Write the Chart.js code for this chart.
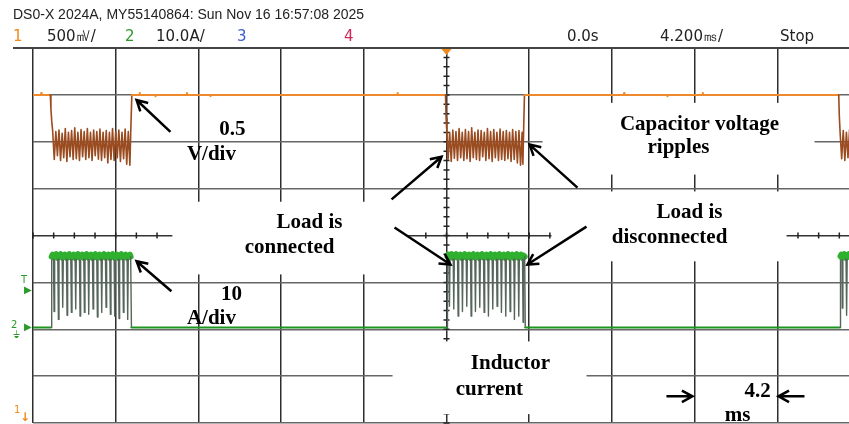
<!DOCTYPE html>
<html>
<head>
<meta charset="utf-8">
<script src="https://cdn.jsdelivr.net/npm/chart.js@4.4.1/dist/chart.umd.min.js"></script>
<style>
  html, body { margin: 0; padding: 0; background: #fff; overflow: hidden; }
  #wrap { width: 849px; height: 424px; overflow: hidden; position: relative; }
  canvas { display: block; }
</style>
</head>
<body>
<div id="wrap"><canvas id="scope" width="880" height="424"></canvas></div>
<script>
// time axis in ms (4.2 ms/div, trigger at 0), vertical axis in screen divisions
const xTicks = [-21, -16.8, -12.6, -8.4, -4.2, 0, 4.2, 8.4, 12.6, 16.8, 21];
const yTicks = [-4, -3, -2, -1, 0, 1, 2, 3, 4];

// channel 1 : capacitor voltage (0.5 V/div), [ms, div]
const ch1Base0 = [[-21, 3.0], [-20.6, 3.0], [-20.58, 3.04], [-20.56, 3.0], [-20.12, 3.0]];
const ch1Burst1 = [
  [-20.09, 2.7], [-20.05, 2.45], [-20.0, 2.22],
  [-19.92, 1.62], [-19.84, 2.22], [-19.76, 1.7], [-19.68, 2.25], [-19.6, 1.6], [-19.52, 2.18],
  [-19.44, 1.66], [-19.36, 2.28], [-19.28, 1.58], [-19.2, 2.2], [-19.12, 1.68], [-19.04, 2.24],
  [-18.96, 1.62], [-18.88, 2.3], [-18.8, 1.64], [-18.72, 2.2], [-18.64, 1.6], [-18.56, 2.26],
  [-18.48, 1.68], [-18.4, 2.22], [-18.32, 1.62], [-18.24, 2.28], [-18.16, 1.66], [-18.08, 2.2],
  [-18.0, 1.6], [-17.92, 2.25], [-17.84, 1.7], [-17.76, 2.22], [-17.68, 1.63], [-17.6, 2.27],
  [-17.52, 1.6], [-17.44, 2.2], [-17.36, 1.66], [-17.28, 2.24], [-17.2, 1.55], [-17.12, 2.2],
  [-17.04, 1.62], [-16.96, 2.28], [-16.88, 1.6], [-16.8, 2.22], [-16.72, 1.66], [-16.64, 2.25],
  [-16.56, 1.58], [-16.48, 2.2], [-16.4, 1.64], [-16.32, 2.27], [-16.24, 1.52], [-16.16, 2.22],
  [-16.08, 1.5], [-16.03, 2.3]
];
const ch1Base1 = [
  [-15.98, 3.0], [-15.6, 3.0], [-15.58, 3.04], [-15.56, 3.0], [-14.8, 3.0], [-14.78, 2.97],
  [-14.76, 3.0], [-13.2, 3.0], [-13.18, 3.04], [-13.16, 3.0], [-12.0, 3.0], [-11.98, 2.97],
  [-11.96, 3.0], [-2.5, 3.0], [-2.48, 3.04], [-2.46, 3.0], [-0.05, 3.0]
];
const ch1Burst2 = [
  [-0.02, 2.5], [0.02, 2.18],
  [0.08, 1.62], [0.16, 2.2], [0.24, 1.58], [0.32, 2.25], [0.4, 1.65], [0.48, 2.22], [0.56, 1.6],
  [0.64, 2.28], [0.72, 1.66], [0.8, 2.2], [0.88, 1.6], [0.96, 2.26], [1.04, 1.64], [1.12, 2.22],
  [1.2, 1.58], [1.28, 2.3], [1.36, 1.66], [1.44, 2.2], [1.52, 1.62], [1.6, 2.25], [1.68, 1.6],
  [1.76, 2.24], [1.84, 1.68], [1.92, 2.2], [2.0, 1.6], [2.08, 2.28], [2.16, 1.64], [2.24, 2.22],
  [2.32, 1.58], [2.4, 2.26], [2.48, 1.66], [2.56, 2.2], [2.64, 1.6], [2.72, 2.27], [2.8, 1.62],
  [2.88, 2.22], [2.96, 1.6], [3.04, 2.24], [3.12, 1.64], [3.2, 2.2], [3.28, 1.58], [3.36, 2.26],
  [3.44, 1.62], [3.52, 2.22], [3.6, 1.55], [3.68, 2.24], [3.76, 1.5], [3.84, 2.2], [3.88, 1.52],
  [3.92, 2.3]
];
const ch1Base2 = [
  [3.96, 3.0], [9.0, 3.0], [9.02, 3.04], [9.04, 3.0], [11.2, 3.0], [11.22, 2.97],
  [11.24, 3.0], [13.0, 3.0], [13.02, 3.04], [13.04, 3.0], [19.92, 3.0]
];
const ch1Burst3 = [
  [19.95, 2.55], [19.99, 2.2], [20.07, 1.64], [20.15, 2.24], [20.23, 1.6], [20.31, 2.2],
  [20.39, 1.66], [20.47, 2.26], [20.55, 1.62], [20.63, 2.22], [20.71, 1.6], [20.79, 2.2],
  [20.87, 1.64], [20.95, 2.24]
];

// channel 2 : inductor current (10 A/div), [ms, div]
const ch2Base0 = [[-21, -1.96], [-20.08, -1.96]];
const ch2Burst1 = [
  [-20.05, -0.45], [-20.0, -0.41],
  [-19.96, -0.47], [-19.93, -1.62], [-19.9, -0.44], [-19.82, -0.4],
  [-19.74, -0.48], [-19.71, -1.79], [-19.68, -0.43], [-19.6, -0.4],
  [-19.52, -0.47], [-19.49, -1.53], [-19.46, -0.45], [-19.38, -0.41],
  [-19.3, -0.48], [-19.27, -1.7], [-19.24, -0.43], [-19.16, -0.4],
  [-19.08, -0.47], [-19.05, -1.64], [-19.02, -0.44], [-18.94, -0.41],
  [-18.86, -0.48], [-18.83, -1.57], [-18.8, -0.43], [-18.72, -0.4],
  [-18.64, -0.47], [-18.61, -1.72], [-18.58, -0.45], [-18.5, -0.41],
  [-18.42, -0.48], [-18.39, -1.64], [-18.36, -0.43], [-18.28, -0.4],
  [-18.2, -0.47], [-18.17, -1.68], [-18.14, -0.44], [-18.06, -0.41],
  [-17.98, -0.48], [-17.95, -1.57], [-17.92, -0.43], [-17.84, -0.4],
  [-17.76, -0.47], [-17.73, -1.74], [-17.7, -0.45], [-17.62, -0.41],
  [-17.54, -0.48], [-17.51, -1.64], [-17.48, -0.43], [-17.4, -0.4],
  [-17.32, -0.47], [-17.29, -1.53], [-17.26, -0.44], [-17.18, -0.41],
  [-17.1, -0.48], [-17.07, -1.68], [-17.04, -0.43], [-16.96, -0.4],
  [-16.88, -0.47], [-16.85, -1.72], [-16.82, -0.45], [-16.74, -0.41],
  [-16.66, -0.48], [-16.63, -1.77], [-16.6, -0.43], [-16.52, -0.4],
  [-16.44, -0.47], [-16.41, -1.64], [-16.38, -0.44], [-16.3, -0.41],
  [-16.22, -0.48], [-16.19, -1.79], [-16.16, -0.43], [-16.08, -0.41], [-16.04, -0.45]
];
const ch2Base1 = [[-16.0, -1.96], [0.03, -1.96]];
const ch2Burst2 = [
  [0.05, -0.45], [0.09, -0.41],
  [0.12, -0.47], [0.15, -1.51], [0.18, -0.44], [0.26, -0.4],
  [0.34, -0.48], [0.37, -1.57], [0.4, -0.43], [0.48, -0.4],
  [0.56, -0.47], [0.59, -1.72], [0.62, -0.45], [0.7, -0.41],
  [0.78, -0.48], [0.81, -1.62], [0.84, -0.43], [0.92, -0.4],
  [1.0, -0.47], [1.03, -1.51], [1.06, -0.44], [1.14, -0.41],
  [1.22, -0.48], [1.25, -1.72], [1.28, -0.43], [1.36, -0.4],
  [1.44, -0.47], [1.47, -1.62], [1.5, -0.45], [1.58, -0.41],
  [1.66, -0.48], [1.69, -1.53], [1.72, -0.43], [1.8, -0.4],
  [1.88, -0.47], [1.91, -1.64], [1.94, -0.44], [2.02, -0.41],
  [2.1, -0.48], [2.13, -1.72], [2.16, -0.43], [2.24, -0.4],
  [2.32, -0.47], [2.35, -1.57], [2.38, -0.45], [2.46, -0.41],
  [2.54, -0.48], [2.57, -1.51], [2.6, -0.43], [2.68, -0.4],
  [2.76, -0.47], [2.79, -1.64], [2.82, -0.44], [2.9, -0.41],
  [2.98, -0.48], [3.01, -1.72], [3.04, -0.43], [3.12, -0.4],
  [3.2, -0.47], [3.23, -1.62], [3.26, -0.45], [3.34, -0.41],
  [3.42, -0.48], [3.45, -1.79], [3.48, -0.43], [3.56, -0.4],
  [3.64, -0.47], [3.67, -1.72], [3.7, -0.44], [3.78, -0.41],
  [3.86, -0.48], [3.89, -1.85], [3.92, -0.43], [3.97, -0.45]
];
const ch2Base2 = [[4.0, -1.96], [19.99, -1.96]];
const ch2Burst3 = [
  [20.01, -0.44], [20.05, -0.41], [20.08, -0.47], [20.1, -1.55], [20.13, -0.44], [20.21, -0.4],
  [20.29, -0.48], [20.32, -1.7], [20.35, -0.43], [20.43, -0.4], [20.51, -0.47], [20.54, -1.6],
  [20.57, -0.45], [20.65, -0.41], [20.73, -0.48], [20.76, -1.66], [20.79, -0.43], [20.87, -0.4],
  [20.95, -0.47], [20.98, -1.58], [21.0, -0.44]
];

// annotation layer, in axis units
const maskBoxes = [
  [4.88, 18.69, 2.83, 1.3],
  [-13.92, -2.03, 0.72, -0.83],
  [5.33, 17.27, 0.94, -0.55],
  [-2.74, 7.11, -2.26, -3.81]
];
const notes = [
  ['0.5', -10.87, 2.26], ['V/div', -11.94, 1.72],
  ['10', -10.92, -1.26], ['A/div', -11.94, -1.77],
  ['Load is', -6.96, 0.28], ['connected', -7.97, -0.26],
  ['Capacitor voltage', 12.85, 2.36], ['ripples', 11.78, 1.87],
  ['Load is', 12.34, 0.49], ['disconnected', 11.33, -0.04],
  ['Inductor', 3.25, -2.74], ['current', 2.18, -3.28],
  ['4.2', 15.8, -3.32], ['ms', 14.78, -3.85]
];
const arrows = [
  [-14.02, 2.21, -15.74, 2.89],
  [-2.79, 0.77, -0.25, 1.68],
  [-2.64, 0.17, 0.2, -0.62],
  [6.65, 1.02, 4.22, 1.94],
  [7.11, 0.19, 4.11, -0.62],
  [-13.97, -1.19, -15.74, -0.55],
  [11.17, -3.43, 12.49, -3.43],
  [18.18, -3.43, 16.86, -3.43]
];

const toXY = arr => arr.map(p => ({ x: p[0], y: p[1] }));

const ch1Data = toXY([].concat(ch1Base0, ch1Burst1, ch1Base1, ch1Burst2, ch1Base2, ch1Burst3));
const ch2Data = toXY([].concat(ch2Base0, ch2Burst1, ch2Base1, ch2Burst2, ch2Base2, ch2Burst3));

function drawArrow(ctx, x0, y0, x1, y1) {
  const a = Math.atan2(y1 - y0, x1 - x0), h = 12;
  ctx.beginPath();
  ctx.moveTo(x0, y0);
  ctx.lineTo(x1, y1);
  ctx.moveTo(x1 - h * Math.cos(a - 0.5), y1 - h * Math.sin(a - 0.5));
  ctx.lineTo(x1, y1);
  ctx.lineTo(x1 - h * Math.cos(a + 0.5), y1 - h * Math.sin(a + 0.5));
  ctx.stroke();
}

const scopeOverlay = {
  id: 'scopeOverlay',
  beforeDatasetsDraw(chart) {
    const { ctx, scales: { x, y } } = chart;
    ctx.save();
    // minor ticks on centre lines
    ctx.strokeStyle = '#222';
    ctx.lineWidth = 1.5;
    const cx = x.getPixelForValue(0), cy = y.getPixelForValue(0);
    ctx.beginPath();
    for (let v = -4; v <= 4.001; v += 0.2) {
      const py = y.getPixelForValue(v);
      ctx.moveTo(cx - 3, py); ctx.lineTo(cx + 3, py);
    }
    for (let v = -21; v <= 21.001; v += 1.05) {
      const px = x.getPixelForValue(v);
      ctx.moveTo(px, cy - 3); ctx.lineTo(px, cy + 3);
    }
    ctx.stroke();
    // white label boxes pasted over the grid
    ctx.fillStyle = '#fff';
    maskBoxes.forEach(b => {
      const x0 = x.getPixelForValue(b[0]), x1 = x.getPixelForValue(b[1]);
      const y0 = y.getPixelForValue(b[2]), y1 = y.getPixelForValue(b[3]);
      ctx.fillRect(x0, y0, x1 - x0, y1 - y0);
    });
    ctx.restore();
  },
  afterDraw(chart) {
    const { ctx, scales: { x, y } } = chart;
    ctx.save();
    // annotations
    ctx.fillStyle = '#000';
    ctx.font = 'bold 21px "Liberation Serif", "Times New Roman", serif';
    ctx.textAlign = 'center';
    ctx.textBaseline = 'middle';
    notes.forEach(n => ctx.fillText(n[0], x.getPixelForValue(n[1]), y.getPixelForValue(n[2])));
    ctx.strokeStyle = '#000';
    ctx.lineWidth = 2.5;
    arrows.forEach(a => drawArrow(ctx, x.getPixelForValue(a[0]), y.getPixelForValue(a[1]),
                                  x.getPixelForValue(a[2]), y.getPixelForValue(a[3])));

    // scope header
    ctx.textAlign = 'left';
    ctx.textBaseline = 'middle';
    ctx.font = '14px "Liberation Sans", Arial, sans-serif';
    ctx.fillStyle = '#222';
    ctx.fillText('DS0-X 2024A, MY55140864: Sun Nov 16 16:57:08 2025', 13, 15);
    ctx.font = '15px "DejaVu Sans", "Liberation Sans", sans-serif';
    const row = [
      ['1', 13, '#f08a1c'], ['500㎷/', 47, '#222'], ['2', 125, '#2a9a2a'], ['10.0A/', 156, '#222'],
      ['3', 237, '#3c5cc8'], ['4', 344, '#d0285a'], ['0.0s', 567, '#222'], ['4.200㎳/', 660, '#222'],
      ['Stop', 780, '#222']
    ];
    row.forEach(r => { ctx.fillStyle = r[2]; ctx.fillText(r[0], r[1], 37); });

    // top frame line and trigger marker
    ctx.strokeStyle = '#444';
    ctx.lineWidth = 2;
    ctx.beginPath(); ctx.moveTo(13, 48); ctx.lineTo(880, 48); ctx.stroke();
    const tx = x.getPixelForValue(0);
    ctx.fillStyle = '#f08a1c';
    ctx.beginPath(); ctx.moveTo(tx - 5, 49); ctx.lineTo(tx + 5, 49); ctx.lineTo(tx, 55); ctx.closePath(); ctx.fill();

    // channel markers on the left
    ctx.font = '10px "DejaVu Sans", sans-serif';
    ctx.fillStyle = '#2a9a2a';
    ctx.fillText('T', 21, y.getPixelForValue(-0.95));
    ctx.fillText('▶', 24, y.getPixelForValue(-1.17));
    ctx.fillText('2', 11, y.getPixelForValue(-1.92));
    ctx.fillText('▶', 24, y.getPixelForValue(-1.96));
    ctx.fillText('⏚', 13, y.getPixelForValue(-2.14));
    ctx.fillStyle = '#f08a1c';
    ctx.fillText('1', 14, 410);
    ctx.font = 'bold 12px "DejaVu Sans", sans-serif';
    ctx.fillText('↓', 20, 418);
    ctx.restore();
  }
};

new Chart(document.getElementById('scope'), {
  type: 'line',
  data: {
    datasets: [
      {
        label: 'Capacitor voltage',
        data: ch1Data,
        borderColor: '#ef8a2c',
        borderWidth: 2,
        borderJoinStyle: 'round',
        borderCapStyle: 'round',
        segment: {
          borderColor: c => (c.p0.parsed.y < 2.8 || c.p1.parsed.y < 2.8) ? '#9a4c20' : '#ef8a2c',
          borderWidth: c => (c.p0.parsed.y < 2.8 || c.p1.parsed.y < 2.8) ? 1.6 : 2
        }
      },
      {
        label: 'Inductor current',
        data: ch2Data,
        borderColor: '#1e961e',
        borderWidth: 2,
        borderJoinStyle: 'round',
        borderCapStyle: 'round',
        segment: {
          borderColor: c => {
            const a = c.p0.parsed.y, b = c.p1.parsed.y;
            if (a > -1 && b > -1) return '#2fb02f';
            if (a < -1.9 && b < -1.9) return '#1e961e';
            return '#56665a';
          },
          borderWidth: c => {
            const a = c.p0.parsed.y, b = c.p1.parsed.y;
            if (a > -1 && b > -1) return 6;
            if (a < -1.9 && b < -1.9) return 2;
            return 1.4;
          }
        }
      }
    ]
  },
  options: {
    responsive: false,
    animation: false,
    parsing: false,
    layout: { padding: { left: 33, top: 48, right: 20, bottom: 1 } },
    elements: { point: { radius: 0 }, line: { tension: 0 } },
    plugins: { legend: { display: false }, tooltip: { enabled: false } },
    scales: {
      x: {
        type: 'linear', min: -21, max: 21,
        afterBuildTicks: s => { s.ticks = xTicks.map(v => ({ value: v })); },
        ticks: { display: false },
        grid: { color: '#2e2e2e', lineWidth: 1.5, drawTicks: false },
        border: { display: false }
      },
      y: {
        type: 'linear', min: -4, max: 4,
        afterBuildTicks: s => { s.ticks = yTicks.map(v => ({ value: v })); },
        ticks: { display: false },
        grid: { color: c => (c.tick && c.tick.value === 0) ? '#333' : '#666', lineWidth: 1.5, drawTicks: false },
        border: { display: false }
      }
    }
  },
  plugins: [scopeOverlay]
});
</script>
</body>
</html>
